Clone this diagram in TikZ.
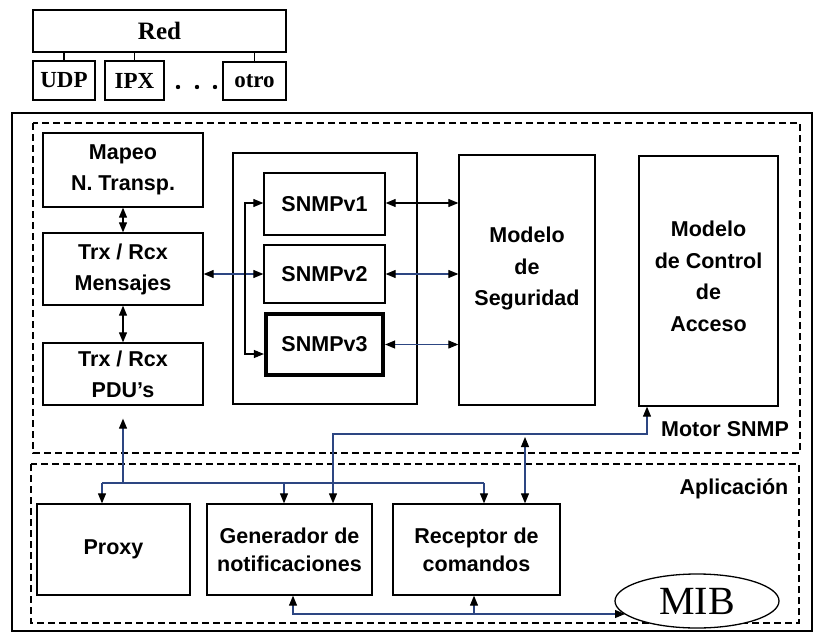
\documentclass[tikz,border=0pt]{standalone}
\usepackage{fontspec}
\setmainfont{Liberation Sans}
\newfontfamily\timesf{Liberation Serif}
\usetikzlibrary{arrows.meta,calc,shapes.geometric}
\definecolor{lnblue}{RGB}{45,70,130}
\begin{document}
\begin{tikzpicture}[x=1pt,y=-1pt,
  >={Triangle[length=10pt,width=8pt,color=black]},
  box/.style={draw=black, line width=1.3pt, fill=white, align=center, inner sep=0pt,
    font=\fontsize{21.5}{31}\selectfont\bfseries},
  appbox/.style={box, font=\fontsize{21.5}{28}\selectfont\bfseries},
  netbox/.style={draw=black, line width=1.3pt, fill=white, inner sep=0pt,
    font=\timesf\fontsize{23}{28}\selectfont\bfseries},
  txt/.style={align=center, inner sep=0pt, font=\fontsize{21.5}{31.5}\selectfont\bfseries},
  conn/.style={line width=1.1pt, draw=lnblue},
  blk/.style={line width=1.1pt, draw=black},
  zone/.style={line width=1.3pt, dash pattern=on 7pt off 4pt}
]
\useasboundingbox (0,0) rectangle (819,634);
\fill[white] (0,0) rectangle (819,634);

% network part
\node[netbox, minimum width=253pt, minimum height=42pt, font=\timesf\fontsize{25}{28}\selectfont\bfseries] (red) at (159.5,31) {Red};
\node[netbox, minimum width=62pt, minimum height=39pt] (udp) at (64,80.5) {UDP};
\node[netbox, minimum width=59pt, minimum height=39pt] (ipx) at (134.5,80.5) {IPX};
\node[netbox, minimum width=63pt, minimum height=38pt] (otro) at (254.5,81) {otro};
\draw[line width=1.3pt] (udp.north) -- (udp.north |- red.south);
\draw[line width=1.3pt] (ipx.north) -- (ipx.north |- red.south);
\draw[line width=1.3pt] (otro.north) -- (otro.north |- red.south);
\fill (178,87) circle (2.2);
\fill (197,87) circle (2.2);
\fill (215,87) circle (2.2);

% frames
\draw[line width=2.8pt] (12,113) rectangle (812,631);
\draw[zone] (33,123) rectangle (800,453);
\draw[zone] (31,464) rectangle (799,623);

% Motor SNMP
\node[box, minimum width=160pt, minimum height=74pt] (mapeo) at (123,170) {Mapeo\\N. Transp.};
\node[box, minimum width=160pt, minimum height=72pt] (mensajes) at (123,269) {Trx / Rcx\\Mensajes};
\node[box, minimum width=160pt, minimum height=62pt] (pdu) at (123,374) {Trx / Rcx\\PDU’s};
\node[box, minimum width=184pt, minimum height=251pt] (cont) at (325,278.5) {};
\node[box, minimum width=121pt, minimum height=62pt] (v1) at (324.5,204) {SNMPv1};
\node[box, minimum width=121pt, minimum height=58pt] (v2) at (324.5,274) {SNMPv2};
\node[box, line width=4.2pt, minimum width=117pt, minimum height=61pt] (v3) at (324.5,344.5) {SNMPv3};
\node[box, minimum width=136pt, minimum height=250pt] (seg) at (527,280) {};
\node[txt] (segtxt) at (527,268.5) {Modelo\\de\\Seguridad};
\node[box, minimum width=139pt, minimum height=250pt] (ctrl) at (708.5,281) {};
\node[txt] (ctrltxt) at (708.5,276.5) {Modelo\\de Control\\de\\Acceso};
\node[txt] (motor) at (725,429) {Motor SNMP};

% Aplicacion
\node[txt] (aplic) at (734,489) {Aplicación};
\node[appbox, minimum width=153pt, minimum height=91pt] (proxy) at (113.5,549.5) {Proxy};
\node[appbox, minimum width=165pt, minimum height=91pt] (gen) at (289.5,549.5) {Generador de\\notificaciones};
\node[appbox, minimum width=167pt, minimum height=91pt] (rec) at (476.5,549.5) {Receptor de\\comandos};
\node[draw=black, line width=1.3pt, fill=white, ellipse, inner sep=0pt,
  minimum width=164pt, minimum height=54pt, font=\timesf\fontsize{40}{40}\selectfont] (mib) at (697,601) {MIB};

% connectors in Motor SNMP
\draw[blk,<->] (mapeo) -- (mensajes);
\draw[blk,<->] (mensajes) -- (pdu);
\draw[conn,<->] (mensajes.east |- v2.west) -- (v2.west);
\coordinate (bk1) at (245,203);
\coordinate (bk3) at (245,354);
\draw[blk,<->] (bk1 -| v1.west) -- (bk1) -- (bk3) -- (bk3 -| v3.west);
\draw[blk,<->] (v1.east |- bk1) -- (bk1 -| seg.west);
\draw[conn,<->] (v2.east) -- (v2.east -| seg.west);
\draw[conn,<->] (v3.east) -- (v3.east -| seg.west);

% connectors to Aplicacion
\coordinate (busL) at (102,483);
\coordinate (busG) at (284,483);
\coordinate (busR) at (484,483);
\draw[conn] (busL) -- (busR);
\draw[conn,->] (pdu.south |- busL) -- ($(pdu.south)+(0,13)$);
\draw[conn,->] (busL) -- (busL |- proxy.north);
\draw[conn,->] (busG) -- (busG |- gen.north);
\draw[conn,->] (busR) -- (busR |- rec.north);
\coordinate (up1) at (333,434);
\coordinate (up2) at (647,434);
\draw[conn,<->] (up1 |- gen.north) -- (up1) -- (up2) -- (up2 |- ctrl.south);
\coordinate (rc) at (525,437);
\draw[conn,<->] (rc) -- (rc |- rec.north);
\coordinate (lo1) at (293,614);
\coordinate (lo2) at (474,614);
\coordinate (lo3) at (625,614);
\draw[conn,<->] (lo1 |- gen.south) -- (lo1) -- (lo3);
\draw[conn,->] (lo2) -- (lo2 |- rec.south);
\end{tikzpicture}
\end{document}
